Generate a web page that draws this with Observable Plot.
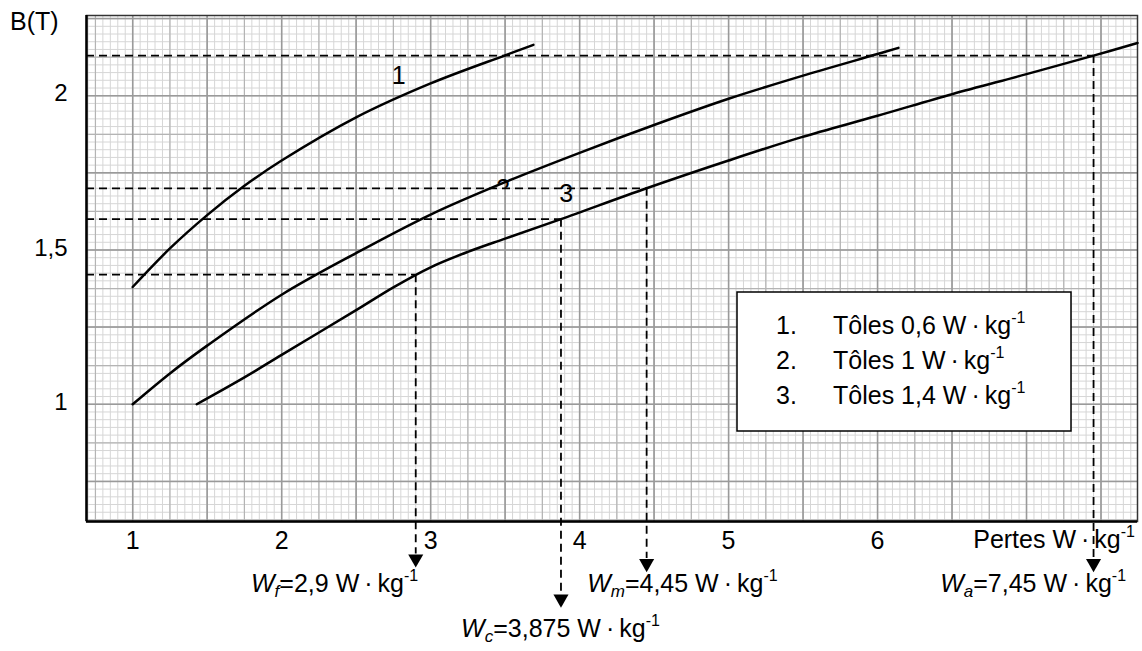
<!DOCTYPE html>
<html><head><meta charset="utf-8">
<script src="https://cdn.jsdelivr.net/npm/d3@7"></script>
<script src="https://cdn.jsdelivr.net/npm/@observablehq/plot@0.6"></script>
<style>
body{margin:0;background:#fff;}
svg{font-family:"Liberation Sans",Arial,sans-serif;}
</style>
</head><body><div id="chart"></div>
<script>
// ---- data ----
const curve1X = [1.0, 1.25, 1.5, 1.75, 2.0, 2.5, 3.0, 3.5, 3.69];
const curve1B = [1.38, 1.505, 1.613, 1.708, 1.79, 1.93, 2.04, 2.131, 2.165];
const curve2X = [1.0, 1.25, 1.5, 2.0, 2.5, 3.0, 3.5, 4.0, 4.5, 5.0, 5.5, 6.0, 6.14];
const curve2B = [1.0, 1.10, 1.19, 1.355, 1.49, 1.615, 1.72, 1.815, 1.905, 1.99, 2.065, 2.135, 2.155];
const curve3X = [1.43, 1.75, 2.0, 2.5, 2.75, 3.0, 3.25, 3.5, 3.875, 4.45, 5.0, 5.485, 6.0, 6.5, 7.0, 7.45, 7.745];
const curve3B = [1.0, 1.087, 1.16, 1.305, 1.379, 1.444, 1.494, 1.537, 1.60, 1.70, 1.79, 1.865, 1.935, 2.005, 2.07, 2.13, 2.171];

const wNames = ["f", "c", "m", "a"];
const wValues = [2.9, 3.875, 4.45, 7.45];
const wLabels = ["2,9", "3,875", "4,45", "7,45"];
const bValues = [1.42, 1.60, 1.70, 2.13];

const xTicks = [1, 2, 3, 4, 5, 6];
const yTicks = [1, 1.5, 2];
const legendItems = ["Tôles 0,6 W·kg", "Tôles 1 W·kg", "Tôles 1,4 W·kg"];
const curveNames = ["1", "2", "3"];

// ---- layout ----
const xDomain = [0.69, 7.745];
const yDomain = [0.62, 2.26];
const arrowRow = [0, 1, 0, 0];
const arrowLineEnd = [0.515, 0.385, 0.50, 0.50];
const arrowDotY = [0.499, 0.369, 0.484, 0.484];

const curves = [];
[[curve1X, curve1B], [curve2X, curve2B], [curve3X, curve3B]].forEach(([xs, bs], i) =>
  xs.forEach((x, j) => curves.push({id: curveNames[i], x, b: bs[j]})));
const dash = wNames.map((n, i) => ({n, w: wValues[i], b: bValues[i], yEnd: arrowLineEnd[i], yDot: arrowDotY[i]}));

const rng = (a, b, s) => d3.range(Math.ceil(a / s - 1e-9), Math.floor(b / s + 1e-9) + 1).map(k => +(k * s).toFixed(4));
const fineX = rng(xDomain[0], xDomain[1], 0.05);
const midX = rng(xDomain[0], xDomain[1], 0.25);
const majX = rng(xDomain[0], xDomain[1], 0.5);
const fineY = rng(yDomain[0], yDomain[1], 0.025);
const midY = rng(yDomain[0], yDomain[1], 0.125);
const majY = rng(yDomain[0], yDomain[1], 0.25);

const FS = 25;
const plot = Plot.plot({
  width: 1142, height: 651,
  marginLeft: 86, marginRight: 5, marginTop: 15, marginBottom: 130,
  x: {domain: xDomain},
  y: {domain: yDomain},
  style: {fontFamily: '"Liberation Sans",Arial,sans-serif', fontSize: FS + "px", color: "black", background: "white"},
  marks: [
    Plot.ruleX(fineX, {stroke: "#d6d6d6", strokeWidth: 1}),
    Plot.ruleY(fineY, {stroke: "#d6d6d6", strokeWidth: 1}),
    Plot.ruleX(midX, {stroke: "#b4b4b4", strokeWidth: 1.2}),
    Plot.ruleY(midY, {stroke: "#b4b4b4", strokeWidth: 1.2}),
    Plot.ruleX(majX, {stroke: "#9a9a9a", strokeWidth: 1.5}),
    Plot.ruleY(majY, {stroke: "#9a9a9a", strokeWidth: 1.5}),
    Plot.frame({stroke: "#333", strokeWidth: 1.5}),
    Plot.ruleX([xDomain[0]], {stroke: "black", strokeWidth: 2.5}),
    Plot.ruleY([yDomain[0]], {stroke: "black", strokeWidth: 2.5}),
    Plot.axisX({ticks: xTicks, tickSize: 0, tickPadding: 10, label: null, fontSize: FS, tickFormat: d => String(d)}),
    Plot.axisY({ticks: yTicks, tickSize: 0, tickPadding: 19, label: null, fontSize: 24, dy: -2,
      tickFormat: d => String(d).replace(".", ",")}),
    Plot.ruleY(dash, {y: "b", x1: () => xDomain[0], x2: "w", stroke: "black", strokeWidth: 1.8, strokeDasharray: "8,5"}),
    Plot.ruleX(dash, {x: "w", y1: "b", y2: "yEnd", stroke: "black", strokeWidth: 1.8, strokeDasharray: "8,5"}),
    Plot.dot(dash, {x: "w", y: "yDot", symbol: "triangle2", r: 7.2, rotate: 180, fill: "black", stroke: "none"}),
    Plot.line(curves, {x: "x", y: "b", z: "id", stroke: "black", strokeWidth: 2.5, curve: "catmull-rom"}),
    Plot.text([{t: curveNames[0], x: 2.785, b: 2.065}, {t: curveNames[2], x: 3.91, b: 1.68}],
      {x: "x", y: "b", text: "t", fontSize: FS, fill: "black"})
  ]
});
document.getElementById("chart").appendChild(plot);

// ---- rich text annotations ----
const X = plot.scale("x"), Y = plot.scale("y");
const svg = d3.select(plot);
const bottom = Y.apply(yDomain[0]);

function rich(x, y, anchor, parts) {
  const t = svg.append("text").attr("x", x).attr("y", y).attr("text-anchor", anchor)
    .attr("font-size", FS).attr("fill", "black");
  parts.forEach(p => {
    const s = t.append("tspan").text(p.t);
    if (p.i) s.attr("font-style", "italic");
    if (p.sub) s.attr("font-size", 17).attr("dy", 5);
    if (p.after) s.attr("dy", -5);
    if (p.sup) s.attr("font-size", 16).attr("dy", -11);
  });
  return t;
}
const unit = "W\u2009·\u2009kg";

// axis titles
rich(10, 30, "start", [{t: "B(T)"}]);
rich(1135, bottom + 27, "end", [{t: "Pertes " + unit}, {t: "-1", sup: true}]);

// W annotations
const anchors = ["end", "middle", "start", "end"];
const offs = [3, 0, -59, 33];
dash.forEach((d, i) => {
  rich(X.apply(d.w) + offs[i], bottom + (arrowRow[i] ? 116 : 71), anchors[i], [
    {t: "W", i: true}, {t: d.n, i: true, sub: true}, {t: "=" + wLabels[i] + " " + unit, after: true}, {t: "-1", sup: true}
  ]);
});

// curve label "2": only its top shows, as in the reference
const defs = svg.append("defs");
defs.append("clipPath").attr("id", "clip2").append("rect")
  .attr("x", X.apply(3.3)).attr("y", 0).attr("width", 60).attr("height", Y.apply(1.70));
svg.append("text").attr("x", X.apply(3.49)).attr("y", Y.apply(1.70)).attr("dy", "0.35em")
  .attr("text-anchor", "middle").attr("font-size", FS).attr("clip-path", "url(#clip2)").text(curveNames[1]);

// legend box
const lg = svg.append("g").attr("text-anchor", "start");
lg.append("rect").attr("x", 737).attr("y", 292).attr("width", 334).attr("height", 139)
  .attr("fill", "white").attr("stroke", "black").attr("stroke-width", 1.5);
legendItems.forEach((s, i) => {
  const yb = 334 + i * 35;
  lg.append("text").attr("x", 776).attr("y", yb).attr("text-anchor", "start").attr("font-size", FS).text((i + 1) + ".");
  const t = lg.append("text").attr("x", 833).attr("y", yb).attr("text-anchor", "start").attr("font-size", FS);
  t.append("tspan").text(s.replace("W·kg", unit));
  t.append("tspan").attr("font-size", 16).attr("dy", -11).text("-1");
});
</script>
</body></html>
